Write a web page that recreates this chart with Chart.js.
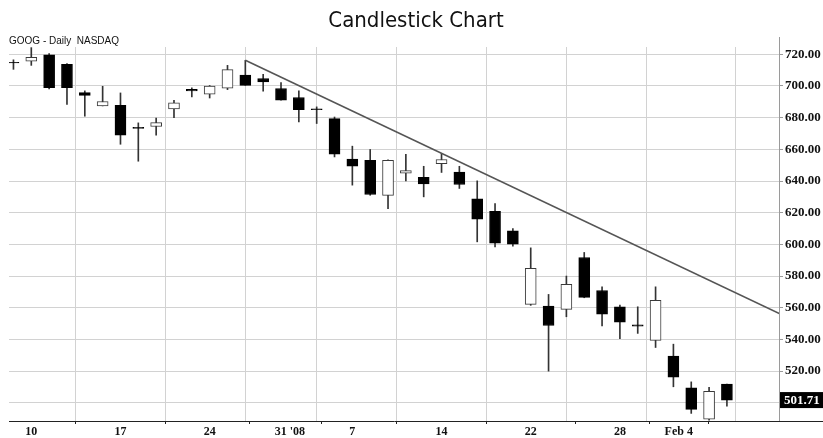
<!DOCTYPE html>
<html>
<head>
<meta charset="utf-8">
<script src="https://cdn.jsdelivr.net/npm/chart.js@4.4.1/dist/chart.umd.min.js"></script>
<style>
  html, body { margin: 0; padding: 0; background: #fff; }
  #wrap { width: 823px; height: 438px; }
</style>
</head>
<body>
<div id="wrap"><canvas id="c" width="823" height="438"></canvas></div>
<script>
// ---- data (GOOG daily, Dec 7 2007 - Feb 6 2008) ----
const dates = ['Dec 7','Dec 10','Dec 11','Dec 12','Dec 13','Dec 14','Dec 17','Dec 18','Dec 19','Dec 20','Dec 21',
  'Dec 24','Dec 26','Dec 27','Dec 28','Dec 31','Jan 2','Jan 3','Jan 4','Jan 7','Jan 8','Jan 9','Jan 10','Jan 11',
  'Jan 14','Jan 15','Jan 16','Jan 17','Jan 18','Jan 22','Jan 23','Jan 24','Jan 25','Jan 28','Jan 29','Jan 30',
  'Jan 31','Feb 1','Feb 4','Feb 5','Feb 6'];
const opens  = [714.9,715.6,719.6,713.7,695.8,687.4,687.8,673.9,674.4,685.5,697.8,
  694.8,698.6,706.8,704.7,698.4,692.7,685.5,679.4,653.8,653.0,630.9,644.9,642.4,
  651.0,645.7,628.7,620.8,608.5,562.1,561.0,559.0,591.7,570.9,560.6,549.2,
  539.4,529.5,509.5,489.7,511.8];
const highs  = [716.5,724.2,720.4,714.1,696.9,699.8,695.6,676.7,679.8,691.0,698.8,
  700.3,713.0,716.2,707.4,702.1,696.9,686.8,680.4,662.0,659.9,653.4,656.9,649.3,
  657.4,649.3,640.1,625.8,610.0,597.8,568.4,580.0,594.9,573.2,561.6,560.6,
  573.2,537.0,513.2,509.7,511.8];
const lows   = [710.5,713.0,698.1,688.3,680.9,687.4,663.2,652.5,668.9,680.0,693.1,
  692.4,697.7,700.4,696.7,691.0,677.3,676.3,655.2,637.4,631.0,622.6,640.1,630.0,
  645.4,635.3,601.6,598.4,598.9,561.5,520.0,554.3,566.3,548.6,540.4,543.8,
  534.9,510.1,493.3,489.1,497.9];
const closes = [714.5,718.0,699.0,699.0,694.1,690.2,668.9,673.2,676.9,689.3,696.8,
  700.0,710.3,700.4,702.5,691.0,685.1,685.1,656.9,649.3,631.5,653.0,646.6,638.2,
  653.6,637.8,615.9,600.8,600.1,584.8,548.8,574.7,566.5,556.0,550.9,548.4,
  564.6,516.2,495.8,507.2,501.71];
// week-start trading days (index into dates) for vertical grid lines
const weekStarts = [1, 6, 11, 15, 19, 24, 29, 33, 38];
// x-axis labels and the day index where each is centred
const xLabels = ['10', '17', '24', "31 '08", '7', '14', '22', '28', 'Feb 4'];
const xLabelAt = [1, 6, 11, 15.5, 19, 24, 29, 34, 37.3];
// price axis ticks
const yTicks = [500, 520, 540, 560, 580, 600, 620, 640, 660, 680, 700, 720];
// trend line across the highs
const trendX = [13, 43];
const trendY = [716.2, 556];

// ---- build datasets ----
const bodyData = dates.map((d, i) => ({ x: i, y: [opens[i], closes[i]] }));
const wickData = dates.map((d, i) => ({ x: i, y: [lows[i], highs[i]] }));
const bodyFill = dates.map((d, i) => closes[i] < opens[i] ? '#000000' : '#ffffff');
const bodyBorder = dates.map((d, i) => closes[i] < opens[i] ? '#000000' : '#3a3a3a');
const trendData = trendX.map((x, i) => ({ x: x, y: trendY[i] }));

const X_MIN = -0.25, X_MAX = 42.92;
const Y_MIN = 488.5, Y_MAX = 724.6;
const serifBold = "'Liberation Serif', 'Times New Roman', serif";

const lastValuePlugin = {
  id: 'lastValue',
  afterDraw(chart) {
    const ctx = chart.ctx;
    const area = chart.chartArea;
    const ys = chart.scales.y;
    ctx.save();
    // axis line extension above plot
    ctx.strokeStyle = '#9a9a9a';
    ctx.lineWidth = 1;
    ctx.beginPath();
    ctx.moveTo(area.right + 0.5, area.top - 10);
    ctx.lineTo(area.right + 0.5, area.top);
    ctx.stroke();
    // x axis line continues under the price axis
    ctx.strokeStyle = '#222';
    ctx.beginPath();
    ctx.moveTo(area.right, Math.round(area.bottom) + 0.5);
    ctx.lineTo(chart.width, Math.round(area.bottom) + 0.5);
    ctx.stroke();
    // last close tag
    const v = closes[closes.length - 1];
    const y = ys.getPixelForValue(v);
    ctx.fillStyle = '#000';
    ctx.fillRect(area.right + 1, y - 8, chart.width - area.right - 1, 16);
    ctx.fillStyle = '#fff';
    ctx.font = "bold 13px " + serifBold;
    ctx.textBaseline = 'middle';
    ctx.textAlign = 'left';
    ctx.fillText(v.toFixed(2), area.right + 5, y + 0.5);
    ctx.restore();
  }
};

new Chart(document.getElementById('c'), {
  type: 'bar',
  data: {
    datasets: [
      {
        type: 'line',
        data: trendData,
        borderColor: '#555555',
        borderWidth: 1.6,
        pointRadius: 0,
        fill: false,
        xAxisID: 'x', yAxisID: 'y',
        order: 0
      },
      {
        data: bodyData,
        backgroundColor: bodyFill,
        borderColor: bodyBorder,
        borderWidth: 1,
        borderSkipped: false,
        barThickness: 11,
        grouped: false,
        xAxisID: 'x', yAxisID: 'y',
        order: 1
      },
      {
        data: wickData,
        backgroundColor: '#333333',
        borderWidth: 0,
        barThickness: 1,
        grouped: false,
        xAxisID: 'x', yAxisID: 'y',
        order: 2
      }
    ]
  },
  options: {
    responsive: false,
    animation: false,
    layout: { padding: { left: 9, right: 0, top: 0, bottom: 0 } },
    plugins: {
      legend: { display: false },
      tooltip: { enabled: false },
      title: {
        display: true,
        text: 'Candlestick Chart',
        color: '#111',
        font: { family: "'Liberation Sans Narrow', 'Arial Narrow', 'DejaVu Sans Condensed', sans-serif", size: 22, weight: 'normal', lineHeight: 1 },
        padding: { top: 10, bottom: 3 }
      },
      subtitle: {
        display: true,
        text: 'GOOG - Daily  NASDAQ',
        align: 'start',
        color: '#111',
        font: { family: "'Liberation Sans', Arial, sans-serif", size: 10, weight: 'normal', lineHeight: 1.2 },
        padding: { top: 0, bottom: 0 }
      }
    },
    scales: {
      x: {
        type: 'linear',
        position: 'bottom',
        min: X_MIN, max: X_MAX,
        offset: false,
        afterBuildTicks: (s) => { s.ticks = weekStarts.map(v => ({ value: v })); },
        afterFit: (s) => { s.height = 0; },
        ticks: { display: false },
        grid: { color: '#d2d2d2', lineWidth: 1, drawTicks: false },
        border: { display: true, color: '#222', width: 1 }
      },
      xl: {
        type: 'linear',
        position: 'bottom',
        min: X_MIN, max: X_MAX,
        offset: false,
        afterBuildTicks: (s) => { s.ticks = xLabelAt.map(v => ({ value: v })); },
        afterFit: (s) => { s.height = 17; },
        ticks: {
          autoSkip: false, maxRotation: 0, padding: 1,
          color: '#111',
          font: { family: serifBold, size: 12, weight: 'bold', lineHeight: 1.1 },
          callback: (v, i) => xLabels[i]
        },
        grid: { drawOnChartArea: false, drawTicks: true, tickLength: 3, color: '#222' },
        border: { display: false }
      },
      y: {
        type: 'linear',
        position: 'right',
        min: Y_MIN, max: Y_MAX,
        afterBuildTicks: (s) => { s.ticks = yTicks.map(v => ({ value: v })); },
        afterFit: (s) => { s.width = 44; },
        ticks: {
          padding: 2,
          color: '#111',
          font: { family: serifBold, size: 13, weight: 'bold' },
          callback: (v) => v === 500 ? '' : Number(v).toFixed(2)
        },
        grid: { color: '#d2d2d2', lineWidth: 1, tickLength: 4, tickColor: '#9a9a9a' },
        border: { display: true, color: '#9a9a9a', width: 1 }
      }
    }
  },
  plugins: [lastValuePlugin]
});
</script>
</body>
</html>
